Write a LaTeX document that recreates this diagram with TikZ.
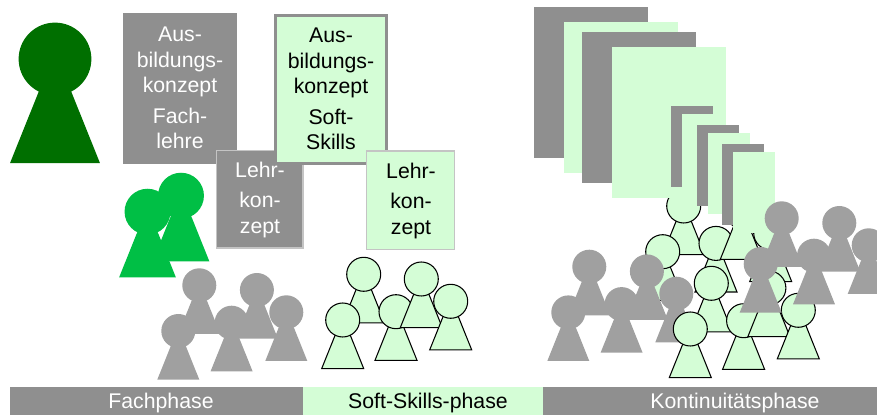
\documentclass[tikz,border=0pt]{standalone}
\usepackage{fontspec}
\setmainfont{Liberation Sans}
\usepackage{xcolor}
\definecolor{boxgrau}{HTML}{8F8F8F}
\definecolor{figgrau}{HTML}{A0A0A0}
\definecolor{hellgruen}{HTML}{D4FDD6}
\definecolor{dunkelgruen}{HTML}{006F00}
\definecolor{mittelgruen}{HTML}{00BF45}
\definecolor{randgrau}{HTML}{C4C4C4}

\tikzset{
  txt/.style={align=center,inner sep=0pt,font=\fontsize{12.1}{14.3}\selectfont},
  txthell/.style={txt,text=white},
  txtdunkel/.style={txt,text=black},
  figgrauf/.style={fill=figgrau},
  figgruenf/.style={fill=hellgruen,draw=black,line width=0.6pt},
  figdunkel/.style={fill=dunkelgruen},
  figmittel/.style={fill=mittelgruen},
}

% one figure: x, y of the head, size, style
\newcommand{\figur}[4]{
  \path[#4] ({#1-21*#3},{#2+48.6*#3}) -- ({#1-7.5*#3},{#2+15*#3}) -- ({#1+7.5*#3},{#2+15*#3}) -- ({#1+21*#3},{#2+48.6*#3}) -- cycle;
  \path[#4] ({#1},{#2}) circle ({17*#3});
}
% group of five figures
\newcommand{\gruppe}[3]{
  \foreach \dx/\dy in {0/0,32.3/37.4,57.6/4.7,87/27,-21/45.7}{
    \figur{#1+\dx}{#2+\dy}{1}{#3}
  }
}

\begin{document}
\begin{tikzpicture}[x=0.02cm,y=-0.02cm]
\useasboundingbox (0,0) rectangle (877,415);

%large figure
\figur{55}{59}{2.14}{figdunkel}

%two middle figures
\figur{181}{195.7}{1.35}{figmittel}
\figur{147.5}{211.7}{1.35}{figmittel}

%concept boxes
\fill[boxgrau] (123,13) rectangle (237,164);
\node[txthell] (ausfach) at (180,88) {Aus-\\bildungs-\\konzept\\[3.4pt]Fach-\\lehre};
\draw[fill=boxgrau,draw=randgrau,line width=0.6pt] (216.5,150.5) rectangle (303,248);
\node[txthell] (lehrfach) at (260,200) {Lehr-\\[2.8pt]kon-\\zept};
\draw[fill=hellgruen,draw=boxgrau,line width=1.7pt] (275.5,15.5) rectangle (386.5,163.5);
\node[txtdunkel] (aussoft) at (331,89) {Aus-\\bildungs-\\konzept\\[3.4pt]Soft-\\Skills};
\draw[fill=hellgruen,draw=randgrau,line width=0.6pt] (366.5,151) rectangle (454.5,249.5);
\node[txtdunkel] (lehrsoft) at (411,201) {Lehr-\\[2.8pt]kon-\\zept};

%figures left
\gruppe{199.3}{285.3}{figgrauf}
\gruppe{363.7}{274.3}{figgruenf}

%figures behind the stacks
\gruppe{683.7}{206}{figgruenf}

%stacks
\foreach \x/\y in {534/7,582/32}{
  \fill[boxgrau] (\x,\y) rectangle ({\x+114},{\y+151});
  \fill[hellgruen] ({\x+30},{\y+15}) rectangle ({\x+144},{\y+166});
}
\foreach \x/\y in {671/106,697/125,722/144}{
  \fill[boxgrau] (\x,\y) rectangle ({\x+42},{\y+81});
  \fill[hellgruen] ({\x+11},{\y+8}) rectangle ({\x+53},{\y+89});
}

%figures in front
\gruppe{589.3}{266.7}{figgrauf}
\gruppe{711.3}{283.3}{figgruenf}
\gruppe{781.7}{218.3}{figgrauf}

%phases
\fill[boxgrau] (10,387) rectangle (303,415);
\fill[hellgruen] (303,387) rectangle (543,415);
\fill[boxgrau] (543,387) rectangle (877,415);
\node[txthell,anchor=base] (fachphase) at (161,408.5) {Fachphase};
\node[txtdunkel,anchor=base] (softphase) at (428,408.5) {Soft-Skills-phase};
\node[txthell,anchor=base] (kontphase) at (735,408.5) {Kontinuitätsphase};
\end{tikzpicture}
\end{document}
